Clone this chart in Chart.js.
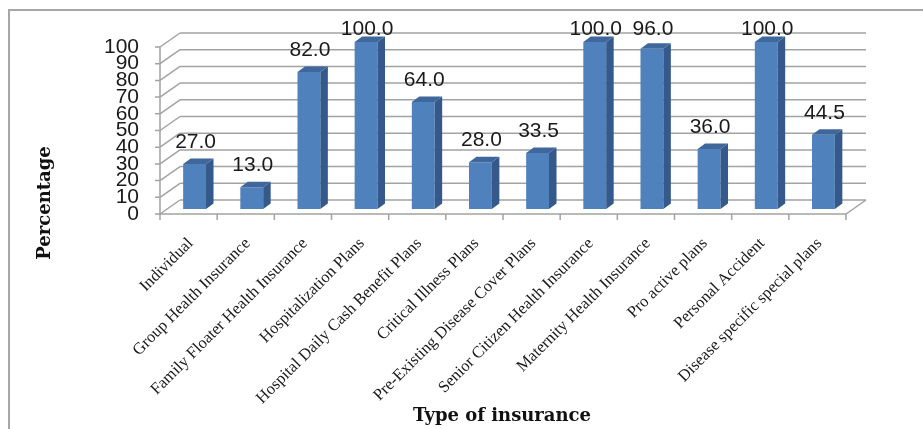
<!DOCTYPE html>
<html>
<head>
<meta charset="utf-8">
<script src="https://cdn.jsdelivr.net/npm/chart.js@4.4.0/dist/chart.umd.min.js"></script>
<style>
  html, body { margin: 0; padding: 0; background: #fff; overflow: hidden; }
  #wrap { width: 923px; height: 429px; }
</style>
</head>
<body>
<div id="wrap"><canvas id="chart" width="923" height="429"></canvas></div>
<script>
// Survey: share of respondents aware of each type of health insurance (%)
const categories = [
  'Individual',
  'Group Health Insurance',
  'Family Floater Health Insurance',
  'Hospitalization Plans',
  'Hospital Daily Cash Benefit Plans',
  'Critical Illness Plans',
  'Pre-Existing Disease Cover Plans',
  'Senior Citizen Health Insurance',
  'Maternity Health Insurance',
  'Pro active plans',
  'Personal Accident',
  'Disease specific special plans'
];
const percentages = [27.0, 13.0, 82.0, 100.0, 64.0, 28.0, 33.5, 100.0, 96.0, 36.0, 100.0, 44.5];
const yMin = 0;
const yMax = 100;
const yStep = 10;
const xTitle = 'Type of insurance';
const yTitle = 'Percentage';

// Pseudo-3D geometry: offsets of the front plane and back wall relative to the bar plane
const FRONT = { dx: -6, dy: 5 };
const BACK = { dx: 14, dy: -9 };
const BAR_DEPTH = { dx: 7.5, dy: -5.5 };
const GRID = '#A3A3A3';
const BAR_FRONT = '#4F81BD';
const BAR_SIDE = '#34598A';
const BAR_TOP = '#3F679B';

function poly(ctx, pts) {
  ctx.beginPath();
  ctx.moveTo(pts[0][0], pts[0][1]);
  for (let i = 1; i < pts.length; i++) ctx.lineTo(pts[i][0], pts[i][1]);
  ctx.closePath();
  ctx.fill();
}

const frame3d = {
  id: 'frame3d',
  beforeDraw(chart) {
    const { ctx, width, height } = chart;
    ctx.save();
    ctx.fillStyle = '#fff';
    ctx.fillRect(0, 0, width, height);
    ctx.strokeStyle = '#A6A6A6';
    ctx.lineWidth = 2;
    ctx.strokeRect(9, 10, width + 20, height + 20);
    ctx.restore();
  },
  beforeDatasetsDraw(chart) {
    const { ctx, chartArea: a, scales: { x, y } } = chart;
    const fx = a.left + FRONT.dx;
    const y0 = y.getPixelForValue(yMin);
    const yTop = y.getPixelForValue(yMax);
    ctx.save();
    ctx.strokeStyle = GRID;
    ctx.lineWidth = 1.5;
    ctx.beginPath();
    y.ticks.forEach(t => {
      const py = y.getPixelForValue(t.value);
      // back wall gridline
      ctx.moveTo(a.left + BACK.dx, py + BACK.dy);
      ctx.lineTo(a.right + BACK.dx, py + BACK.dy);
      // side wall gridline
      ctx.moveTo(fx, py + FRONT.dy);
      ctx.lineTo(a.left + BACK.dx, py + BACK.dy);
      // tick mark
      ctx.moveTo(fx - 5, py + FRONT.dy);
      ctx.lineTo(fx, py + FRONT.dy);
    });
    // value axis line
    ctx.moveTo(fx, yTop + FRONT.dy);
    ctx.lineTo(fx, y0 + FRONT.dy);
    // floor front and right edges
    ctx.moveTo(fx, y0 + FRONT.dy);
    ctx.lineTo(a.right + FRONT.dx, y0 + FRONT.dy);
    ctx.lineTo(a.right + BACK.dx, y0 + BACK.dy);
    // category boundary ticks
    for (let i = 0; i <= categories.length; i++) {
      const px = x.getPixelForValue(i - 0.5) + FRONT.dx;
      ctx.moveTo(px, y0 + FRONT.dy);
      ctx.lineTo(px, y0 + FRONT.dy + 6);
    }
    ctx.stroke();
    ctx.restore();
  },
  afterDatasetsDraw(chart) {
    const { ctx } = chart;
    const meta = chart.getDatasetMeta(0);
    const values = chart.data.datasets[0].data;
    ctx.save();
    meta.data.forEach((bar, i) => {
      const { x: cx, y: top, base, width: w } = bar.getProps(['x', 'y', 'base', 'width'], true);
      const l = cx - w / 2, r = cx + w / 2;
      ctx.fillStyle = BAR_SIDE;
      poly(ctx, [[r, top], [r + BAR_DEPTH.dx, top + BAR_DEPTH.dy], [r + BAR_DEPTH.dx, base + BAR_DEPTH.dy], [r, base]]);
      ctx.fillStyle = BAR_TOP;
      poly(ctx, [[l, top], [l + BAR_DEPTH.dx, top + BAR_DEPTH.dy], [r + BAR_DEPTH.dx, top + BAR_DEPTH.dy], [r, top]]);
      // value label
      ctx.fillStyle = '#1a1a1a';
      ctx.font = '21px "Liberation Sans"';
      ctx.textAlign = 'center';
      ctx.textBaseline = 'alphabetic';
      ctx.fillText(values[i].toFixed(1), cx + 1, Math.max(top - 16, 35));
    });
    ctx.restore();
  },
  afterDraw(chart) {
    const { ctx } = chart;
    ctx.save();
    ctx.fillStyle = '#111';
    ctx.font = 'bold 18px "DejaVu Serif"';
    ctx.textAlign = 'center';
    ctx.textBaseline = 'alphabetic';
    ctx.fillText(xTitle, 502, 421);
    ctx.translate(49.5, 203);
    ctx.rotate(-Math.PI / 2);
    ctx.fillText(yTitle, 0, 0);
    ctx.restore();
  }
};

new Chart(document.getElementById('chart'), {
  type: 'bar',
  data: {
    labels: categories,
    datasets: [{
      data: percentages,
      backgroundColor: BAR_FRONT,
      borderWidth: 0,
      categoryPercentage: 1,
      barPercentage: 0.4
    }]
  },
  options: {
    responsive: false,
    animation: false,
    devicePixelRatio: 1,
    layout: { padding: { left: 0, right: 71, top: 42, bottom: 0 } },
    plugins: { legend: { display: false }, tooltip: { enabled: false } },
    scales: {
      x: {
        offset: true,
        grid: { display: false, drawTicks: false },
        border: { display: false },
        ticks: {
          autoSkip: false,
          minRotation: 45,
          maxRotation: 45,
          padding: 25,
          labelOffset: -4,
          color: '#1a1a1a',
          font: { family: '"Liberation Serif"', size: 16.5 }
        },
        afterFit(scale) { scale.height = 220; }
      },
      y: {
        min: yMin,
        max: yMax,
        grid: { display: false, drawTicks: false },
        border: { display: false },
        ticks: {
          stepSize: yStep,
          autoSkip: false,
          padding: 27,
          labelOffset: 5,
          color: '#1a1a1a',
          font: { family: '"Liberation Sans"', size: 21 }
        },
        afterFit(scale) { scale.width = 166; }
      }
    }
  },
  plugins: [frame3d]
});
</script>
</body>
</html>
